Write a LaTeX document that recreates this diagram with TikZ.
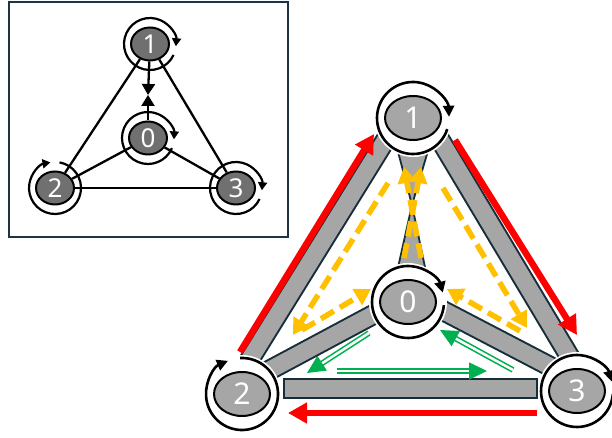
\documentclass[tikz,border=0pt]{standalone}
\usepackage{fontspec}
\setsansfont{Noto Sans}
\usepackage{tikz}
\usetikzlibrary{positioning, arrows.meta, shapes.geometric, calc, backgrounds}
\definecolor{barfill}{RGB}{166,166,166}
\definecolor{barline}{RGB}{22,45,58}
\definecolor{darknode}{RGB}{112,112,112}
\definecolor{hopred}{RGB}{255,0,0}
\definecolor{hopyellow}{RGB}{255,192,0}
\definecolor{hopgreen}{RGB}{0,176,80}
\definecolor{framecol}{RGB}{31,52,66}

\begin{document}
\begin{tikzpicture}[x=1pt, y=1pt,
  bignode/.style={ellipse, draw=black, line width=2pt, fill=barfill,
                  minimum width=56pt, minimum height=44pt, inner sep=0pt,
                  text=white, font=\sffamily\fontsize{30}{30}\selectfont},
  smallnode/.style={ellipse, draw=black, line width=2pt, fill=darknode,
                    minimum width=38pt, minimum height=33pt, inner sep=0pt,
                    text=white, font=\sffamily\fontsize{26}{26}\selectfont},
  bigring/.style={black, line width=2.6pt, -{Triangle[length=11pt, width=11pt]}},
  smallring/.style={black, line width=2.2pt, -{Triangle[length=8pt, width=9pt]}},
  linkbar/.style={draw=barline, line width=21pt,
                  postaction={draw=barfill, line width=17pt, shorten <=2pt, shorten >=2pt}},
  wedge/.style={fill=barfill, draw=barline, line width=1.8pt},
  link/.style={black, line width=2.3pt},
  framebox/.style={draw=framecol, line width=2pt},
  rhop/.style={hopred, line width=6.5pt, -{Triangle[length=19pt, width=20pt]}},
  yhop/.style={hopyellow, line width=5.5pt, dash pattern=on 15pt off 7pt,
               -{Triangle[length=16pt, width=18pt]}},
  ghop/.style={hopgreen, line width=1.6pt, double=white, double distance=2.5pt,
               -{Triangle[length=18pt, width=17pt]}},
]
  \useasboundingbox (0,0) rectangle (612,438);

  % small overview graph
  \draw[framebox] (9,201) rectangle (288,436);
  \node[smallnode] (m1) at (150,394) {1};
  \node[smallnode] (m0) at (148,300) {0};
  \node[smallnode] (m2) at (55,250) {2};
  \node[smallnode] (m3) at (236,250) {3};
  \coordinate (imid) at (148,343);

  \foreach \n/\a in {m1/-5, m0/-3, m2/100, m3/-5}
    \draw[smallring] (\n) ++({\a+340}:26) arc[start angle=\a+340, end angle=\a, radius=26];

  \draw[link] (m1) -- (m2);
  \draw[link] (m1) -- (m3);
  \draw[link] (m2) -- (m3);
  \draw[link] (m0) -- (m2);
  \draw[link] (m0) -- (m3);
  \draw[link, -{Triangle[length=11pt, width=13pt]}] (m1) -- (imid);
  \draw[link, -{Triangle[length=11pt, width=13pt]}] (m0) -- (imid);

  % main ring network
  \node[bignode] (n1) at (413,320) {1};
  \node[bignode] (n0) at (408,136) {0};
  \node[bignode] (n2) at (242,44) {2};
  \node[bignode] (n3) at (577,47) {3};
  \coordinate (hub) at (412,233);

  \begin{scope}[on background layer]
    \fill[white] (0,0) rectangle (612,438);
    % links between the nodes
    \draw[linkbar] ($(n1)+(-20,-10)$) -- ($(n2)+(0,22)$);
    \draw[linkbar] ($(n1)+(20,-10)$) -- ($(n3)+(0,22)$);
    \draw[linkbar] ($(n0)+(-28,-9)$) -- ($(n2)+(24,22)$);
    \draw[linkbar] ($(n0)+(30,-6)$) -- ($(n3)+(-22,22)$);
    \draw[linkbar] ($(n2)+(41,5)$) -- ($(n3)+(-39,2)$);
    \filldraw[wedge] ($(n1)+(-17,-26)$) -- ($(n1)+(17,-26)$) -- (hub) -- cycle;
    \filldraw[wedge] ($(n0)+(-11,30)$) -- ($(n0)+(18,30)$) -- (hub) -- cycle;
    % white halo round each node
    \foreach \n in {n1,n0,n2,n3}
      \fill[white] (\n) circle (39);
  \end{scope}

  \foreach \n/\a in {n1/2, n0/15, n2/113, n3/15}
    \draw[bigring] (\n) ++({\a+340}:36) arc[start angle=\a+340, end angle=\a, radius=36];

  % outer hops
  \draw[rhop] ($(n2)+(-2,42)$) -- ($(n1)+(-39,-16)$);
  \draw[rhop] ($(n1)+(42,-22)$) -- ($(n3)+(0,56)$);
  \draw[rhop] ($(n3)+(-40,-22)$) -- ($(n2)+(46,-19)$);

  % inner hops through node 0
  \draw[yhop] ($(n1)+(-25,-65)$) -- ($(n2)+(51,59)$);
  \draw[yhop] ($(n1)+(30,-70)$) -- ($(n3)+(-50,63)$);
  \draw[yhop] ($(n2)+(60,64)$) -- ($(n0)+(-37,13)$);
  \draw[yhop] ($(n3)+(-57,60)$) -- ($(n0)+(39,13)$);
  \draw[yhop] ($(n0)+(-4,44)$) -- ($(n1)+(8,-49)$);
  \draw[yhop] ($(n0)+(13,44)$) -- ($(n1)+(-9,-49)$);

  % lower loop
  \draw[ghop] ($(n0)+(-39,-31)$) -- ($(n2)+(65,21)$);
  \draw[ghop] ($(n2)+(95,23)$) -- ($(n3)+(-90,20)$);
  \draw[ghop] ($(n3)+(-64,21)$) -- ($(n0)+(32,-28)$);
\end{tikzpicture}
\end{document}
